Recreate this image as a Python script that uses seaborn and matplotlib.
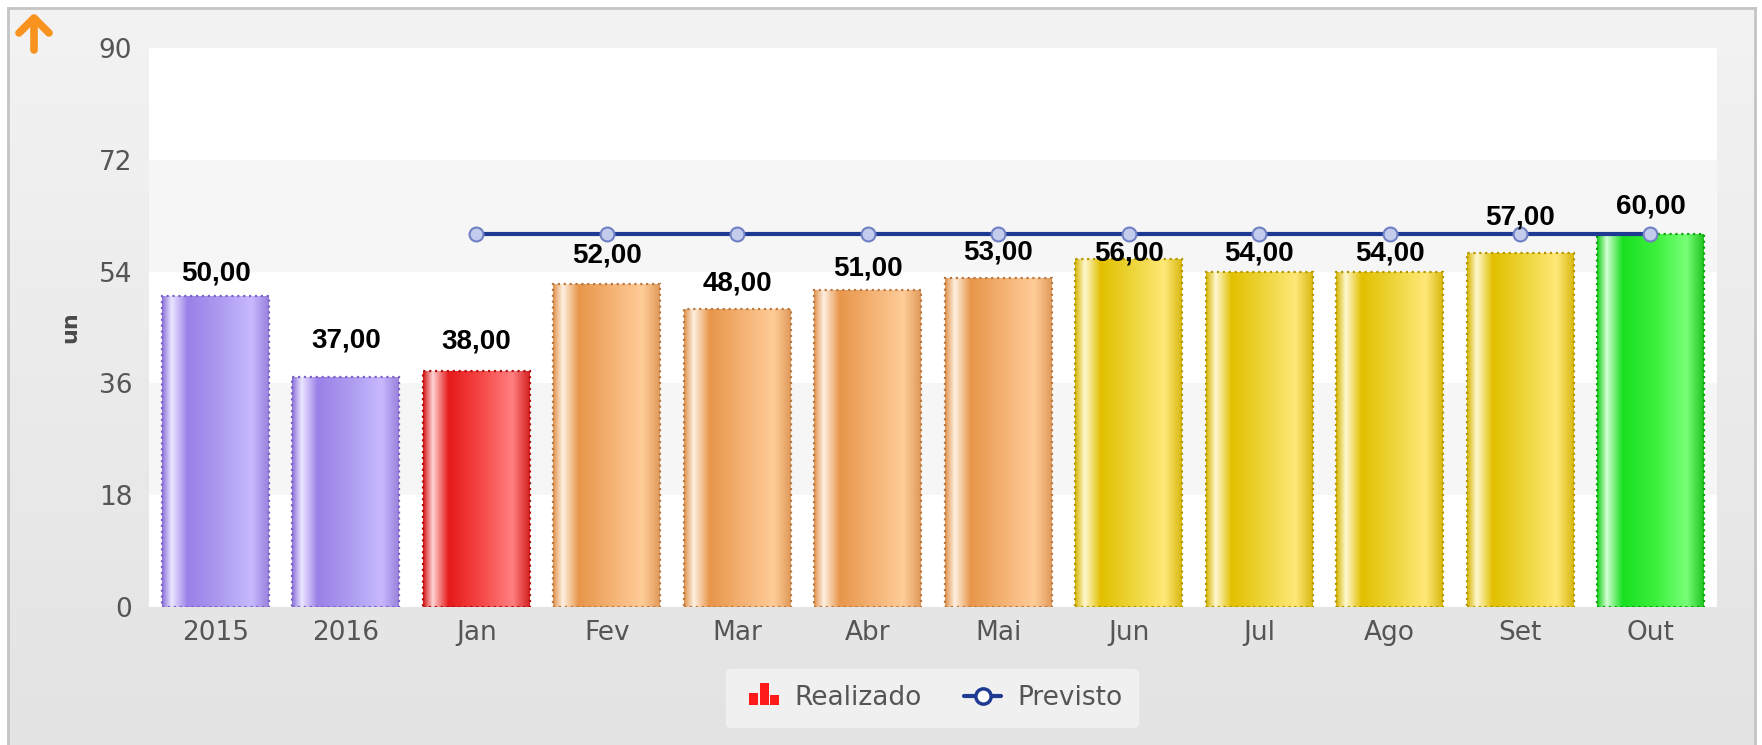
import numpy as np
import pandas as pd
import matplotlib
matplotlib.use("Agg")
import matplotlib.pyplot as plt
import seaborn as sns
from matplotlib.colors import LinearSegmentedColormap
from matplotlib.lines import Line2D
from matplotlib.patches import Rectangle
from matplotlib.legend_handler import HandlerBase

# data
categories = ["2015", "2016", "Jan", "Fev", "Mar", "Abr", "Mai", "Jun", "Jul", "Ago", "Set", "Out"]
realizado = [50, 37, 38, 52, 48, 51, 53, 56, 54, 54, 57, 60]
status = ["ano", "ano", "ruim", "medio", "medio", "medio", "medio", "bom", "bom", "bom", "bom", "otimo"]
previsto_months = ["Jan", "Fev", "Mar", "Abr", "Mai", "Jun", "Jul", "Ago", "Set", "Out"]
previsto = [60, 60, 60, 60, 60, 60, 60, 60, 60, 60]
yticks = [0, 18, 36, 54, 72, 90]

# label offsets above each bar (points) - the original nudges labels around the line
label_pad = [7.5, 17, 12, 11.5, 9, 6.5, 9, -5, 4, 4, 16, 10.5]

# gradient stops per colour group (left -> right across the bar)
grad_stops = {
    "ano":   ["#8c72da", "#ece6ff", "#9a80e8", "#ae9cf0", "#c8b8ff", "#9a82dc"],
    "ruim":  ["#d41414", "#ffd2d2", "#e61a1a", "#f64848", "#ff8080", "#d42020"],
    "medio": ["#e0924c", "#fff0e2", "#e8964a", "#f4b274", "#ffcc98", "#e09a5a"],
    "bom":   ["#d6b600", "#fff8d2", "#e2c000", "#eed63c", "#ffe878", "#d8b810"],
    "otimo": ["#12d012", "#d4ffd4", "#18e020", "#3cf03c", "#78ff78", "#20c420"],
}
stop_pos = [0.0, 0.09, 0.24, 0.55, 0.84, 1.0]
edge_col = {"ano": "#7a62c8", "ruim": "#b01010", "medio": "#b87840", "bom": "#b09600", "otimo": "#10a010"}

df = pd.DataFrame({"cat": categories, "val": realizado, "status": status})

sns.set_theme(style="white")
plt.rcParams["font.family"] = ["DejaVu Sans"]

W, H = 1762, 745
fig = plt.figure(figsize=(W / 100, H / 100), dpi=100, facecolor="white")

# outer panel with soft vertical gradient
bg = fig.add_axes([8 / W, 0, (1755 - 8) / W, 1 - 8 / H])
bg.imshow(np.linspace(0, 1, 200).reshape(-1, 1),
          cmap=LinearSegmentedColormap.from_list("bg", ["#f3f3f3", "#e3e3e3"]),
          aspect="auto", extent=[0, 1, 0, 1])
bg.set_xticks([])
bg.set_yticks([])
for side, sp in bg.spines.items():
    sp.set_color("#c4c4c4")
    sp.set_linewidth(2)
bg.spines["bottom"].set_visible(False)

ax = fig.add_axes([149 / W, 1 - 607 / H, (1717 - 149) / W, (607 - 48) / H])
ax.set_facecolor("white")
for lo, hi in [(18, 36), (54, 72)]:
    ax.axhspan(lo, hi, color="#f6f6f6", zorder=0, lw=0)

sns.barplot(data=df, x="cat", y="val", hue="status", order=categories,
            hue_order=list(grad_stops), dodge=False, width=0.82, legend=False,
            ax=ax, zorder=2)

# gradient fill clipped to each bar
grad = np.linspace(0, 1, 256).reshape(1, -1)
for cont, key in zip(ax.containers, grad_stops):
    cmap = LinearSegmentedColormap.from_list(key, list(zip(stop_pos, grad_stops[key])))
    for bar in cont:
        if np.isnan(bar.get_height()) or bar.get_height() == 0:
            continue
        x0, y0 = bar.get_x(), bar.get_y()
        im = ax.imshow(grad, cmap=cmap, aspect="auto", zorder=2,
                       extent=[x0, x0 + bar.get_width(), y0, y0 + bar.get_height()])
        im.set_clip_path(bar)
        bar.set_facecolor("none")
        bar.set_edgecolor(edge_col[key])
        bar.set_linestyle(":")
        bar.set_linewidth(1.6)
        bar.set_zorder(3)

# value labels
for i, v in enumerate(realizado):
    ax.annotate(f"{v:.2f}".replace(".", ","), xy=(i, v), xytext=(0, label_pad[i]),
                textcoords="offset points", ha="center", va="bottom",
                fontsize=20, fontweight="bold", color="black",
                family="Liberation Sans", zorder=6)

# planned line
xpos = [categories.index(m) for m in previsto_months]
sns.lineplot(x=xpos, y=previsto, ax=ax, color="#1f3a93", linewidth=3,
             marker="o", markersize=10, markerfacecolor="#c4cced",
             markeredgecolor="#6f80c4", markeredgewidth=1.5, zorder=5)

ax.set_xlim(-0.51, len(categories) - 0.49)
ax.set_ylim(0, 90)
ax.set_yticks(yticks)
ax.set_xticks(range(len(categories)))
ax.set_xticklabels(categories)
ax.tick_params(axis="both", length=0, labelsize=19, labelcolor="#555555")
ax.tick_params(axis="y", pad=12)
ax.tick_params(axis="x", pad=9)
ax.set_xlabel("")
ax.set_ylabel("un", fontsize=16, fontweight="bold", color="#4a4a4a")
ax.yaxis.set_label_coords(-0.044, 0.5)
for sp in ax.spines.values():
    sp.set_visible(False)


class BarsHandler(HandlerBase):
    def create_artists(self, legend, orig_handle, xdescent, ydescent,
                       width, height, fontsize, trans):
        out = []
        bw = width / 4.2
        for i, h in enumerate([0.55, 1.0, 0.45]):
            out.append(Rectangle((-xdescent + width * 0.2 + i * bw * 1.2, -ydescent),
                                 bw, height * 1.2 * h, facecolor="#ff1a1a",
                                 edgecolor="none", transform=trans))
        return out


h_bar = Rectangle((0, 0), 1, 1)
h_line = Line2D([], [], color="#1f3a93", linewidth=3, marker="o", markersize=11,
                markerfacecolor="white", markeredgecolor="#1f3a93", markeredgewidth=2.5)
leg = fig.legend([h_bar, h_line], ["Realizado", "Previsto"],
                 handler_map={Rectangle: BarsHandler()},
                 loc="center", bbox_to_anchor=(932 / W, 1 - 698 / H), ncol=2,
                 fontsize=19, frameon=True, fancybox=True, facecolor="#f0f0f0",
                 edgecolor="#f0f0f0", framealpha=1, handlelength=1.4,
                 columnspacing=1.6, handletextpad=0.6, borderpad=0.6)
for t in leg.get_texts():
    t.set_color("#555555")

# orange "up" arrow in the corner
arrow_kw = dict(color="#f7931e", linewidth=5.5, solid_capstyle="round",
                solid_joinstyle="round", transform=fig.transFigure)
fig.add_artist(Line2D([34 / W, 34 / W], [1 - 50 / H, 1 - 19 / H], **arrow_kw))
fig.add_artist(Line2D([19 / W, 34 / W, 49 / W], [1 - 33 / H, 1 - 18 / H, 1 - 33 / H], **arrow_kw))

fig.savefig("out.png", dpi=100, facecolor="white")
